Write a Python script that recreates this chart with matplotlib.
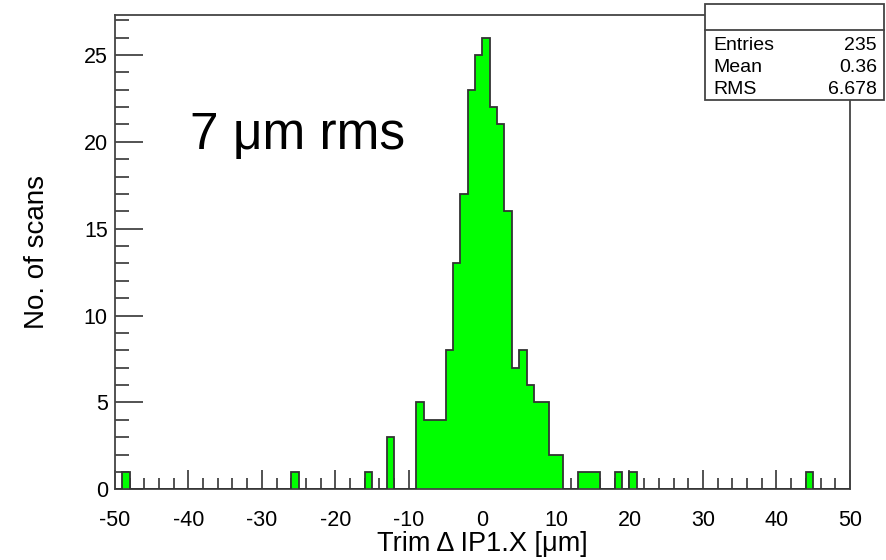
import numpy as np
import matplotlib
matplotlib.use("Agg")
import matplotlib.pyplot as plt
from matplotlib.patches import Rectangle
from matplotlib.ticker import MultipleLocator

# bin edges: 100 bins of width 1 from -50 to 50
bin_lo, bin_hi, n_bins = -50, 50, 100
# non-zero bins: (left edge, count)
bin_left = [-49, -26, -16, -13,
            -9, -8, -7, -6, -5, -4, -3, -2, -1, 0, 1, 2, 3, 4, 5, 6, 7, 8, 9, 10,
            13, 14, 15, 18, 20, 44]
bin_count = [1, 1, 1, 3,
             5, 4, 4, 4, 8, 13, 17, 23, 25, 26, 22, 21, 16, 7, 8, 6, 5, 5, 2, 2,
             1, 1, 1, 1, 1, 1]

stats_labels = ["Entries", "Mean", "RMS"]
stats_values = ["235", "0.36", "6.678"]

edges = np.linspace(bin_lo, bin_hi, n_bins + 1)
counts = np.zeros(n_bins)
for l, c in zip(bin_left, bin_count):
    counts[int(l - bin_lo)] = c

plt.rcParams['font.family'] = ['Liberation Sans', 'DejaVu Sans']
plt.rcParams['axes.unicode_minus'] = False

W, H = 887, 560
fig = plt.figure(figsize=(W / 100, H / 100), dpi=100)
ax = fig.add_axes([114.8 / W, 1 - 489.3 / H, (850 - 114.8) / W, (489.3 - 15) / H])

ax.stairs(counts, edges, fill=True, color='#00ff00', zorder=2)
ax.stairs(counts, edges, fill=False, color='#333333', linewidth=1.3, zorder=3)

ax.set_xlim(-50, 50)
ax.set_ylim(0, 27.3)
ax.xaxis.set_major_locator(MultipleLocator(10))
ax.xaxis.set_minor_locator(MultipleLocator(2))
ax.yaxis.set_major_locator(MultipleLocator(5))
ax.yaxis.set_minor_locator(MultipleLocator(1))
ax.tick_params(which='both', direction='in', top=False, right=False,
               color='#444444', width=1.3, labelsize=15.5)
ax.tick_params(axis='x', which='major', length=14, pad=15)
ax.tick_params(axis='x', which='minor', length=8)
ax.tick_params(axis='y', which='major', length=20, pad=5)
ax.tick_params(axis='y', which='minor', length=10)
for s in ax.spines.values():
    s.set_color('#444444')
    s.set_linewidth(1.3)

ax.set_xlabel("Trim \u0394 IP1.X [\u03bcm]", fontsize=19.5, labelpad=0)
ax.set_ylabel("No. of scans", fontsize=20, labelpad=24)

ax.text(-39.8, 19.6, "7 \u03bcm rms", fontsize=37, ha='left', va='baseline')

# stats box
x0, x1 = 705 / W, 884 / W
yt, ym, yb = 1 - 4 / H, 1 - 30 / H, 1 - 100 / H
fig.add_artist(Rectangle((x0, yb), x1 - x0, yt - yb, transform=fig.transFigure,
                         facecolor='white', edgecolor='#444444', linewidth=1.3, zorder=10))
fig.add_artist(plt.Line2D([x0, x1], [ym, ym], transform=fig.transFigure,
                          color='#444444', linewidth=1.3, zorder=11))
row_y = [45, 67, 90]
for lab, val, ry in zip(stats_labels, stats_values, row_y):
    fig.text(713 / W, 1 - ry / H, lab, fontsize=14, ha='left', va='center', zorder=12)
    fig.text(877 / W, 1 - ry / H, val, fontsize=14, ha='right', va='center', zorder=12)

fig.savefig("out.png", dpi=100)
